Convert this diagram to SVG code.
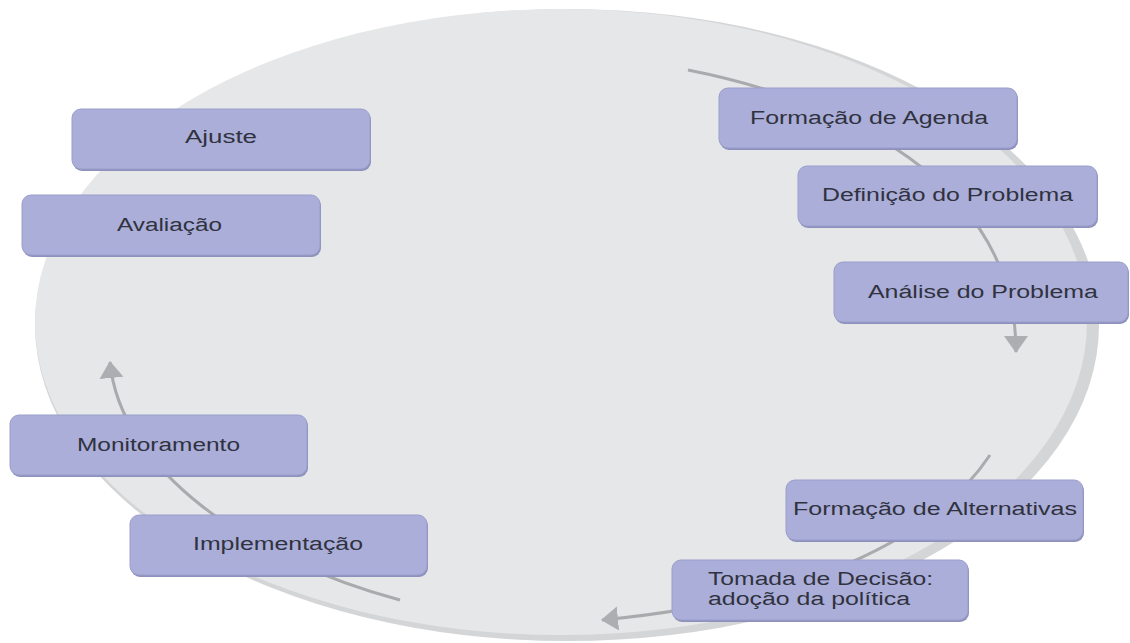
<svg xmlns="http://www.w3.org/2000/svg" width="1130" height="643" viewBox="0 0 1130 643">
<style>
.box{fill:#abaed8;stroke:#9a9ecb;stroke-width:1}
.sh{fill:#8d91bb}
.lbl{font-family:"Liberation Sans",Arial,sans-serif;font-size:18px;fill:#30323f}
.con{fill:none;stroke:#a9aaae;stroke-width:3}
</style>
<defs>
<marker id="ah" markerUnits="userSpaceOnUse" markerWidth="20" markerHeight="26" viewBox="0 0 20 26" refX="16" refY="12" orient="auto">
<path d="M0,0 L17,12 L0,24 Z" fill="#adaeb1"/>
</marker>
</defs>
<rect width="1130" height="643" fill="#ffffff"/>
<g id="background">
<ellipse cx="567" cy="325" rx="532" ry="316" fill="#d4d5d7"/>
<ellipse cx="561" cy="322" rx="526" ry="313" fill="#e6e7e8"/>
</g>
<g id="connectors">
<path class="con" d="M688,70 C840,100 1016,180 1016,352" marker-end="url(#ah)"/>
<path class="con" d="M990,455 C920,560 760,605 602,620" marker-end="url(#ah)"/>
<path class="con" d="M400,600 C250,560 120,470 110,362" marker-end="url(#ah)"/>
</g>
<g id="ajuste">
<rect class="sh" x="73" y="111" width="298" height="60" rx="9"/>
<rect class="box" x="72" y="109" width="298" height="60" rx="9"/>
<text class="lbl" x="185" y="143" textLength="72" lengthAdjust="spacingAndGlyphs">Ajuste</text>
</g>
<g id="avaliacao">
<rect class="sh" x="23" y="197" width="298" height="60" rx="9"/>
<rect class="box" x="22" y="195" width="298" height="60" rx="9"/>
<text class="lbl" x="117" y="231" textLength="105" lengthAdjust="spacingAndGlyphs">Avaliação</text>
</g>
<g id="formacao-agenda">
<rect class="sh" x="720" y="90" width="298" height="60" rx="9"/>
<rect class="box" x="719" y="88" width="298" height="60" rx="9"/>
<text class="lbl" x="750" y="124" textLength="238" lengthAdjust="spacingAndGlyphs">Formação de Agenda</text>
</g>
<g id="definicao-problema">
<rect class="sh" x="799" y="168" width="299" height="60" rx="9"/>
<rect class="box" x="798" y="166" width="299" height="60" rx="9"/>
<text class="lbl" x="822" y="201" textLength="251" lengthAdjust="spacingAndGlyphs">Definição do Problema</text>
</g>
<g id="analise-problema">
<rect class="sh" x="835" y="264" width="294" height="60" rx="9"/>
<rect class="box" x="834" y="262" width="294" height="60" rx="9"/>
<text class="lbl" x="868" y="298" textLength="230" lengthAdjust="spacingAndGlyphs">Análise do Problema</text>
</g>
<g id="formacao-alternativas">
<rect class="sh" x="787" y="482" width="297" height="60" rx="9"/>
<rect class="box" x="786" y="480" width="297" height="60" rx="9"/>
<text class="lbl" x="793" y="515" textLength="284" lengthAdjust="spacingAndGlyphs">Formação de Alternativas</text>
</g>
<g id="tomada-decisao">
<rect class="sh" x="673" y="562" width="296" height="60" rx="9"/>
<rect class="box" x="672" y="560" width="296" height="60" rx="9"/>
<text class="lbl" x="708" y="585" textLength="225" lengthAdjust="spacingAndGlyphs">Tomada de Decisão:</text>
<text class="lbl" x="708" y="605" textLength="202" lengthAdjust="spacingAndGlyphs">adoção da política</text>
</g>
<g id="monitoramento">
<rect class="sh" x="11" y="417" width="297" height="60" rx="9"/>
<rect class="box" x="10" y="415" width="297" height="60" rx="9"/>
<text class="lbl" x="77" y="451" textLength="163" lengthAdjust="spacingAndGlyphs">Monitoramento</text>
</g>
<g id="implementacao">
<rect class="sh" x="131" y="517" width="297" height="60" rx="9"/>
<rect class="box" x="130" y="515" width="297" height="60" rx="9"/>
<text class="lbl" x="193" y="550" textLength="170" lengthAdjust="spacingAndGlyphs">Implementação</text>
</g>
</svg>
